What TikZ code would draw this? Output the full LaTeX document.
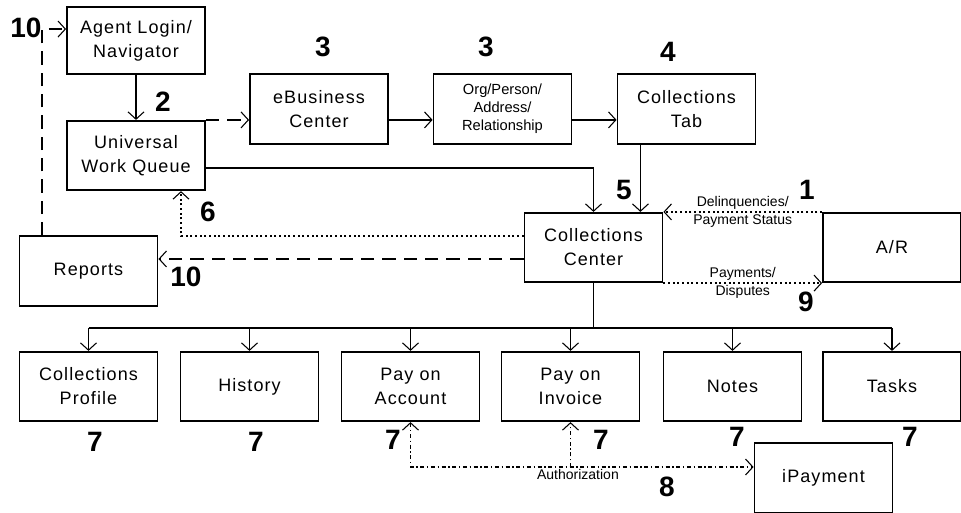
\documentclass[tikz,border=0pt]{standalone}
\usepackage{fontspec}
\setmainfont{Liberation Sans}
\newfontfamily\boxfont[LetterSpace=6]{Liberation Sans}
\usetikzlibrary{arrows.meta}

\begin{document}
\begin{tikzpicture}[x=0.75pt,y=-0.75pt,
		>={Straight Barb[length=5.5pt,width=12pt,line width=0.8pt]},
		box/.style={draw,line width=1.4pt,minimum width=103.5pt,minimum height=52pt,inner sep=0pt,align=center,font=\boxfont\fontsize{13.5}{18}\selectfont},
		num/.style={inner sep=0pt,font=\fontsize{21}{21}\selectfont\bfseries},
		flowtext/.style={inner sep=1.5pt,font=\fontsize{10.5}{12}\selectfont},
		conn/.style={line width=1.1pt},
		longdash/.style={conn,dash pattern=on 10pt off 6pt},
		shortdot/.style={conn,dash pattern=on 1.5pt off 2pt},
		dashdot/.style={conn,dash pattern=on 3pt off 2pt on 1pt off 2pt}]
	\useasboundingbox (0,0) rectangle (961,512);
	\node[box,minimum height=50.25pt] (agent) at (136,40.5) {Agent Login/\\Navigator};
	\node[box] (uwq) at (136,155.5) {Universal\\Work Queue};
	\node[box] (ebc) at (319,109) {eBusiness\\Center};
	\node[box,font=\fontsize{11}{13.5}\selectfont] (org) at (502.5,109) {Org/Person/\\Address/\\Relationship};
	\node[box] (ctab) at (686.5,109) {Collections\\Tab};
	\node[box] (ccenter) at (593.5,247.5) {Collections\\Center};
	\node[box] (ar) at (892,247.5) {A/R};
	\node[box] (reports) at (88.5,271) {Reports};
	\foreach \n/\x/\t in {profile/88.5/{Collections\\Profile},history/249.5/History,payacct/410.5/{Pay on\\Account},
		payinv/570.5/{Pay on\\Invoice},notes/732.5/Notes,tasks/892/Tasks}
		\node[box] (\n) at (\x,386.5) {\t};
	\node[box] (ipay) at (823.5,478) {iPayment};

	\draw[conn,->] (agent) -- (uwq);
	\draw[longdash,->] (uwq.north east) -- (uwq.north east -| ebc.west);
	\draw[conn,->] (ebc.east |- uwq.north) -- (org.west |- uwq.north);
	\draw[conn,->] (org.east |- uwq.north) -- (ctab.west |- uwq.north);
	\coordinate (c5) at ([xshift=-17.25pt]ccenter.north east);
	\draw[conn,->] (ctab.south -| c5) -- (c5);
	\draw[conn,->] ([yshift=-9.4pt]uwq.east) -| (ccenter.north);
	\draw[shortdot,->] ([yshift=8.6pt]ccenter.west) -| ([xshift=33.75pt]uwq.south);
	\draw[longdash,->] ([yshift=-8.6pt]ccenter.west) -- ([yshift=-8.6pt]ccenter.west -| reports.east);
	\draw[longdash,->] ([xshift=-34.9pt]reports.north) |- ([yshift=8.6pt]agent.west);
	\draw[shortdot,->] (ar.north west) -- (ccenter.north east)
		node[flowtext,midway,above] (delinq) {Delinquencies/}
		node[flowtext,midway,below] (paystat) {Payment Status};
	\draw[shortdot,->] (ccenter.south east) -- (ar.south west)
		node[flowtext,midway,above] (paym) {Payments/}
		node[flowtext,midway,below] (disp) {Disputes};
	\draw[conn] (ccenter.south) -- ++(0,45) coordinate (bus);
	\draw[conn] (bus -| profile.north) -- (bus -| tasks.north);
	\foreach \n in {profile,history,payacct,payinv,notes,tasks}
		\draw[conn,->] (bus -| \n.north) -- (\n.north);
	\coordinate (auth) at ([yshift=8.25pt]ipay.west);
	\draw[dashdot,<->] (payacct.south) |- (auth);
	\draw[dashdot,->] (auth -| payinv.south) -- (payinv.south);
	\node[flowtext,below,xshift=5.6pt] (authlbl) at (auth -| payinv.south) {Authorization};

	\node[num] (n10a) at (26,28) {10};
	\node[num] (n2) at (163,102) {2};
	\node[num] (n3a) at (323,47) {3};
	\node[num] (n3b) at (486,47) {3};
	\node[num] (n4) at (668,52) {4};
	\node[num] (n5) at (624,190) {5};
	\node[num] (n1) at (807,190) {1};
	\node[num] (n6) at (208,212) {6};
	\node[num] (n10b) at (186,277) {10};
	\node[num] (n9) at (806,302) {9};
	\foreach \x/\y [count=\i] in {95/442,256/442,393/440,601/440,737/437,910/437}
		\node[num] (n7\i) at (\x,\y) {7};
	\node[num] (n8) at (667,487) {8};
\end{tikzpicture}
\end{document}
